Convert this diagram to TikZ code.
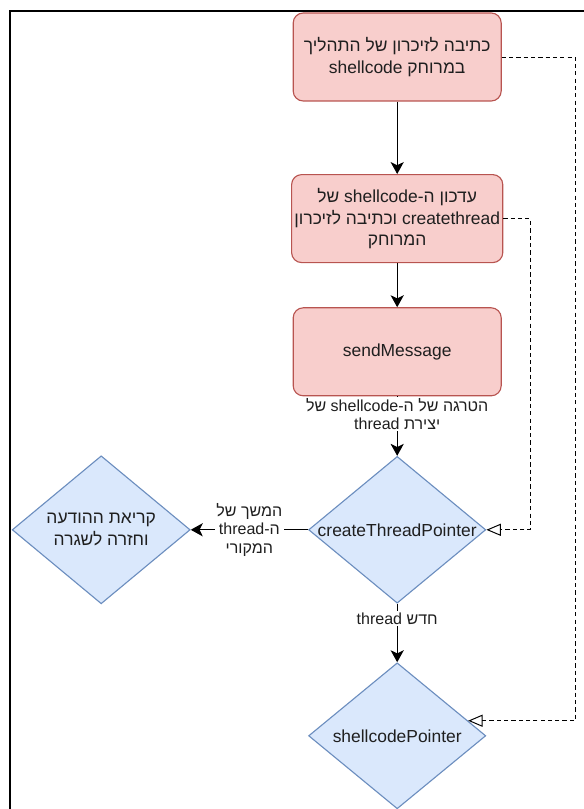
\documentclass[tikz,border=0pt]{standalone}
\usepackage{fontspec}
\setmainfont{Liberation Sans}
\newfontfamily\hebfont[Script=Hebrew]{Liberation Sans}
\TeXXeTstate=1
\newcommand{\heb}[1]{{\hebfont\beginR #1\endR}}
\newcommand{\lat}[1]{\beginL #1\endL{}}
\usetikzlibrary{positioning, shapes.geometric, arrows.meta}

\definecolor{procfill}{HTML}{F8CECC}
\definecolor{procline}{HTML}{B85450}
\definecolor{decfill}{HTML}{DAE8FC}
\definecolor{decline}{HTML}{6C8EBF}

\tikzset{
	process/.style={rectangle, rounded corners=0.25cm, draw=procline, fill=procfill, line width=0.8pt, minimum width=5.2cm, minimum height=2.2cm, align=center, inner sep=2pt},
	decision/.style={diamond, draw=decline, fill=decfill, line width=0.8pt, minimum width=4.43cm, minimum height=3.67cm, inner sep=0pt},
	flow/.style={line width=0.8pt, -{Stealth[length=0.3cm, width=0.33cm, inset=0.08cm]}},
	feedback/.style={line width=0.7pt, dash pattern=on 3pt off 2.2pt, -{Triangle[open, length=0.36cm, width=0.3cm]}},
	edgetext/.style={fill=white, inner sep=1pt, align=center, font=\fontsize{11.4}{13.2}\selectfont},
	frameline/.style={line width=1.3pt},
}

\begin{document}
\begin{tikzpicture}[font=\fontsize{12.4}{15.5}\selectfont, text=black!88]
	\useasboundingbox (0, 0) rectangle (14.6, 20.225);

	% Instances/Symbols:
	\node[process] (write) at (9.93, 18.8) {\heb{כתיבה לזיכרון של התהליך}\\\heb{במרוחק \lat{shellcode}}};
	\node[process] (update) at (9.93, 14.76) {\heb{עדכון ה-\lat{shellcode} של}\\\heb{\lat{createthread} וכתיבה לזיכרון}\\\heb{המרוחק}};
	\node[process] (send) at (9.93, 11.43) {sendMessage};

	\node[decision, label={center:createThreadPointer}] (create) at (9.93, 6.98) {};
	\node[decision, minimum width=4.45cm, minimum height=3.7cm, label={[align=center]center:{{\hebfont\beginR קריאת ההודעה\endR}\\{\hebfont\beginR וחזרה לשגרה\endR}}}] (read) at (2.53, 6.98) {};
	\node[decision, minimum height=3.65cm, label={center:shellcodePointer}] (shell) at (9.93, 1.83) {};

	\coordinate (outerrail) at (14.38, 18.8);
	\coordinate (innerrail) at (13.25, 14.76);

	% Lines:
	\draw[flow] (write) -- (update);
	\draw[flow] (update) -- (send);
	\draw[flow] (send) -- node[edgetext, pos=0.3] {\heb{הטרגה של ה-\lat{shellcode} של}\\\heb{יצירת \lat{thread}}} (create);
	\draw[flow] (create) -- node[edgetext] {\heb{המשך של}\\\heb{ה-\lat{thread}}\\\heb{המקורי}} (read);
	\draw[flow] (create) -- node[edgetext, pos=0.25] {\heb{חדש \lat{thread}}} (shell);

	\draw[feedback] (write.east) -- (outerrail) |- (shell.12);
	\draw[feedback] (update.east) -- (innerrail) |- (create.east);

	% Frame
	\draw[frameline] (0.25, 0) -- (0.25, 19.95) -- (14.6, 19.95);

\end{tikzpicture}
\end{document}
